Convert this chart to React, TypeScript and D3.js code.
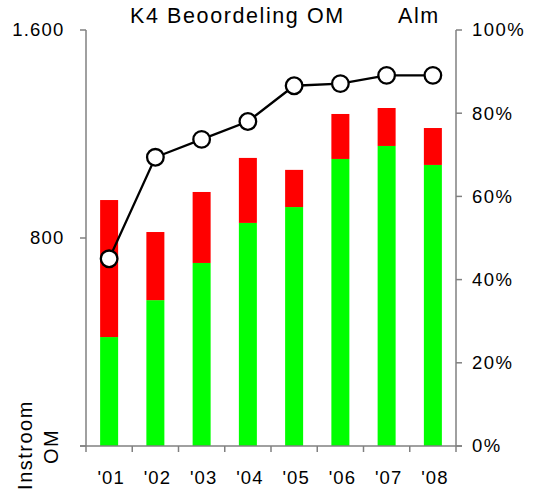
import React from "react";
import * as d3 from "d3";

const categories = ["'01", "'02", "'03", "'04", "'05", "'06", "'07", "'08"];
const greenValues = [419, 561, 704, 858, 919, 1104, 1154, 1081];
const redValues = [527, 262, 273, 250, 143, 173, 146, 142];
const pctValues = [45, 69.4, 73.7, 78, 86.6, 87.1, 89.1, 89.1];
const leftTicks = [0, 800, 1600];
const leftTickLabels = ["", "800", "1.600"];
const rightTicks = [0, 20, 40, 60, 80, 100];

const W = 544;
const H = 490;
const left = 86;
const right = 456;
const top = 30;
const bottom = 446;
const FONT = "Liberation Sans, Arial, Helvetica, sans-serif";

export default function App() {
  const xb = d3.scaleBand<string>().domain(categories).range([left, right]);
  const y = d3.scaleLinear().domain([0, 1600]).range([bottom, top]);
  const yp = d3.scaleLinear().domain([0, 100]).range([bottom, top]);
  const cxOf = (i: number) => (xb(categories[i]) as number) + xb.bandwidth() / 2;
  const line = d3
    .line<number>()
    .x((_, i) => cxOf(i))
    .y((d) => yp(d));
  const axisColor = "#808080";
  const bw = 18;
  return (
    <svg width={W} height={H} style={{ position: "absolute", left: 0, top: 0, background: "#fff" }} fontFamily={FONT}>
      <rect x={0} y={0} width={W} height={H} fill="#fff" />
      {categories.map((c, i) => {
        const cx = cxOf(i);
        return (
          <g key={c}>
            <rect x={cx - bw / 2} y={y(greenValues[i])} width={bw} height={y(0) - y(greenValues[i])} fill="#00ff00" />
            <rect
              x={cx - bw / 2}
              y={y(greenValues[i] + redValues[i])}
              width={bw}
              height={y(greenValues[i]) - y(greenValues[i] + redValues[i])}
              fill="#ff0000"
            />
          </g>
        );
      })}
      {/* left axis */}
      <line x1={left} x2={left} y1={top} y2={bottom} stroke={axisColor} strokeWidth={1.5} />
      {leftTicks.map((t, i) => (
        <g key={t}>
          <line x1={left - 6} x2={left} y1={y(t)} y2={y(t)} stroke={axisColor} strokeWidth={1.5} />
          <text x={64.5} y={y(t)} dy="0.35em" textAnchor="end" fontSize={18.5} letterSpacing={1.2} fill="#000">
            {leftTickLabels[i]}
          </text>
        </g>
      ))}
      {/* right axis */}
      <line x1={right} x2={right} y1={top} y2={bottom} stroke={axisColor} strokeWidth={1.5} />
      {rightTicks.map((t) => (
        <g key={t}>
          <line x1={right} x2={right + 6} y1={yp(t)} y2={yp(t)} stroke={axisColor} strokeWidth={1.5} />
          <text x={472} y={yp(t)} dy="0.35em" textAnchor="start" fontSize={18.5} letterSpacing={1.5} fill="#000">
            {t + "%"}
          </text>
        </g>
      ))}
      {/* bottom axis */}
      <line x1={left - 6} x2={right + 6} y1={bottom} y2={bottom} stroke={axisColor} strokeWidth={1.5} />
      {categories.map((c) => (
        <line key={"t" + c} x1={xb(c) as number} x2={xb(c) as number} y1={bottom} y2={bottom + 6} stroke={axisColor} strokeWidth={1.5} />
      ))}
      <line x1={right} x2={right} y1={bottom} y2={bottom + 6} stroke={axisColor} strokeWidth={1.5} />
      {categories.map((c, i) => (
        <text key={"l" + c} x={cxOf(i) + 2} y={483.5} textAnchor="middle" fontSize={18.5} letterSpacing={1} fill="#000">
          {c}
        </text>
      ))}
      {/* line */}
      <path d={line(pctValues) || ""} fill="none" stroke="#000" strokeWidth={2.3} />
      {pctValues.map((p, i) => (
        <circle key={"c" + i} cx={cxOf(i)} cy={yp(p)} r={8.3} fill="#fff" stroke="#000" strokeWidth={2.3} />
      ))}
      {/* title */}
      <text x={130} y={23} textAnchor="start" fontSize={21.5} letterSpacing={1.6} fill="#000">
        K4 Beoordeling OM
      </text>
      <text x={398} y={23} textAnchor="start" fontSize={21.5} letterSpacing={1.6} fill="#000">
        Alm
      </text>
      {/* y label */}
      <text transform="translate(31.5,445) rotate(-90)" textAnchor="middle" fontSize={20} letterSpacing={1.5} fill="#000">
        Instroom
      </text>
      <text transform="translate(58,446.5) rotate(-90)" textAnchor="middle" fontSize={20} letterSpacing={1.5} fill="#000">
        OM
      </text>
    </svg>
  );
}
